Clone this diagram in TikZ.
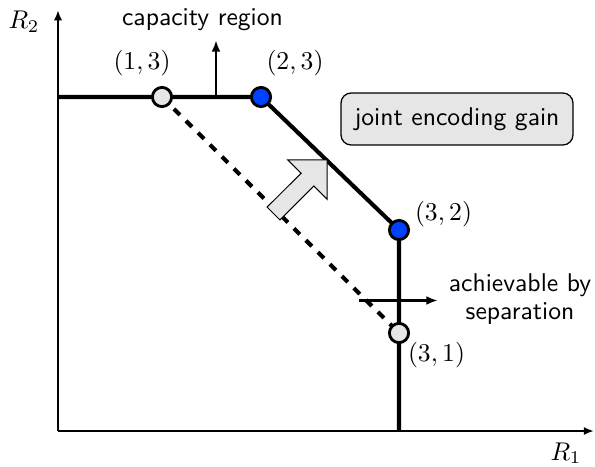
\documentclass[tikz,border=0pt]{standalone}
\usetikzlibrary{arrows.meta}
\definecolor{dotgray}{RGB}{230,230,230}
\definecolor{dotblue}{RGB}{0,64,255}
\begin{document}
\begin{tikzpicture}[x=0.39pt,y=-0.39pt,
  axis/.style={line width=0.9pt,-{Latex[length=4pt,width=3.2pt]}},
  bound/.style={line width=1.6pt},
  sepline/.style={line width=1.6pt,dash pattern=on 3.3pt off 3.3pt},
  pointer/.style={line width=1pt,-{Latex[length=4.5pt,width=3.4pt]}},
  dot/.style={circle,draw,line width=1.1pt,minimum size=7.5pt,inner sep=0pt},
  lbl/.style={inner sep=0pt,anchor=base},
  note/.style={font=\sffamily,inner sep=0pt},
  gainbox/.style={note,draw,line width=0.5pt,rounded corners=4pt,fill=dotgray,
    minimum width=90.5pt,minimum height=20.3pt},
  bigarrow/.style={draw,line width=0.4pt,fill=dotgray,line join=miter},
]
\useasboundingbox (0,0) rectangle (595,466);

% axes
\coordinate (O) at (58,431);
\coordinate (ytop) at (58,10);
\coordinate (xend) at (594,431);
\draw[axis] (O) -- (ytop);
\draw[axis] (O) -- (xend);
\node[lbl] (r2) at (24,29) {$R_2$};
\node[lbl] (r1) at (566,460) {$R_1$};

% corner points of the regions
\coordinate (yl) at (58,97);
\coordinate (c13) at (162,97);
\coordinate (c23) at (261,97);
\coordinate (c32) at (399,230);
\coordinate (c31) at (399,333);
\coordinate (xl) at (399,431);

% separation boundary (dashed) and capacity boundary (solid)
\draw[sepline] (c13) -- (c31);
\draw[bound] (yl) -- (c23) -- (c32) -- (xl);

% pointers to the two regions
\coordinate (capfoot) at (216,97);
\coordinate (captip) at (216,40);
\draw[pointer] (capfoot) -- (captip);
\node[note,anchor=base] (capl) at (202.5,26) {capacity region};

\coordinate (sepfoot) at (359,300.5);
\coordinate (septip) at (438,300.5);
\draw[pointer] (sepfoot) -- (septip);
\node[note,align=center] (sepl) at (520,299.5) {achievable by\\[-1.1pt]separation};

% block arrow showing the gain
\draw[bigarrow] (267.1,207.1) -- (301.1,173.2) -- (287.6,159.8) -- (327.2,159.8)
  -- (327.2,199.4) -- (313.8,186.0) -- (279.9,219.9) -- cycle;
\node[gainbox] (gain) at (457,119) {joint encoding gain};

% rate points
\node[dot,fill=dotgray] (p13) at (c13) {};
\node[dot,fill=dotblue] (p23) at (c23) {};
\node[dot,fill=dotblue] (p32) at (c32) {};
\node[dot,fill=dotgray] (p31) at (c31) {};
\node[lbl] (l13) at (142,70) {$(1,3)$};
\node[lbl] (l23) at (295,70) {$(2,3)$};
\node[lbl] (l32) at (443.5,220) {$(3,2)$};
\node[lbl] (l31) at (436.5,361) {$(3,1)$};
\end{tikzpicture}
\end{document}
